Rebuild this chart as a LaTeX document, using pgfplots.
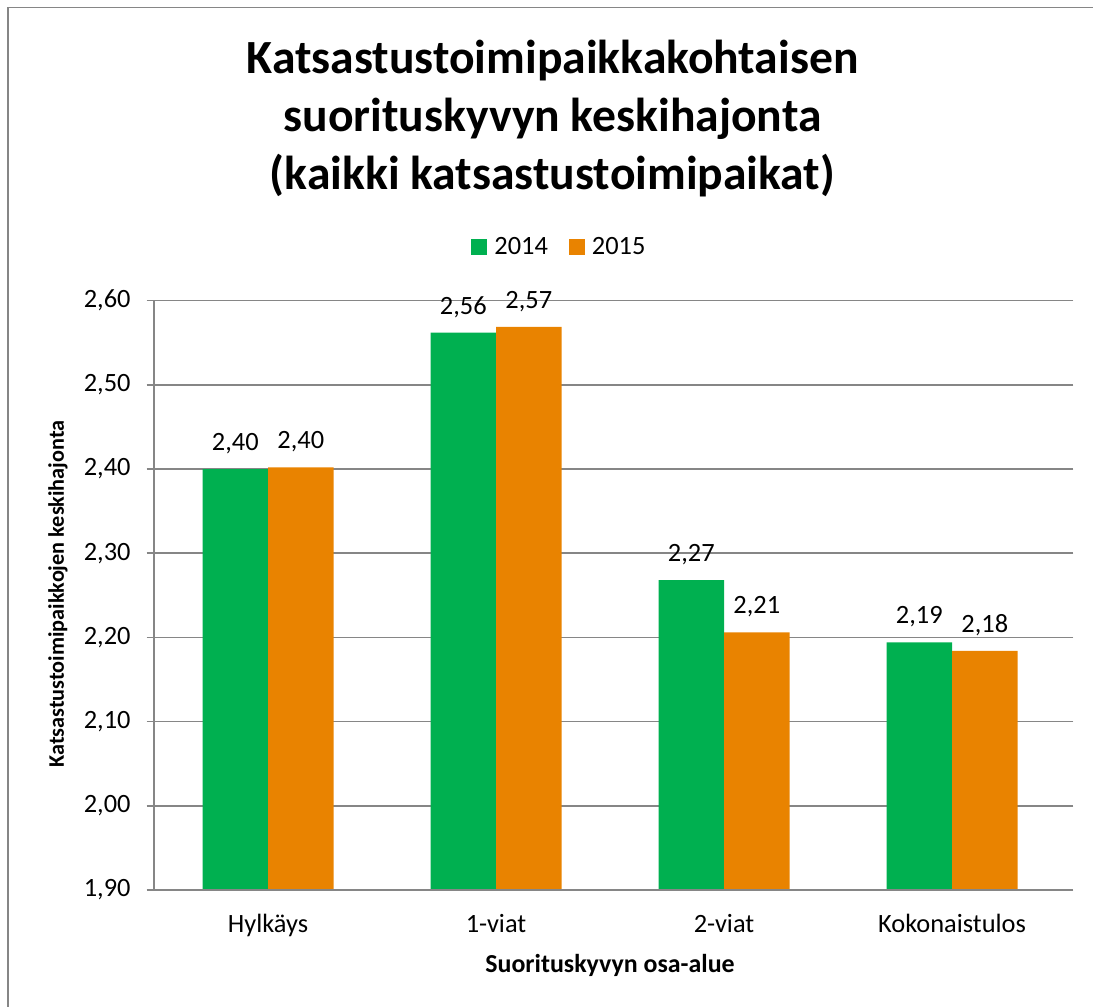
\documentclass[border=0pt]{standalone}
\usepackage{fontspec}
\setmainfont{Carlito}
\usepackage{pgfplots}
\pgfplotsset{compat=1.18}
\definecolor{cgreen}{RGB}{0,176,80}
\definecolor{corange}{RGB}{233,131,0}
\definecolor{cgrid}{RGB}{134,134,134}
\newcommand\tickfont{\fontsize{26.5}{31}\selectfont}
\begin{document}
\begin{tikzpicture}[x=1bp,y=1bp]
\path[use as bounding box] (0,0) rectangle (1093,1007);
\draw[cgrid, line width=1.2bp] (8,0) -- (8,999.5) -- (1093,999.5);
% title
\node[anchor=base, font=\fontsize{47.8}{56}\selectfont\bfseries] at (552.5,933.7) {Katsastustoimipaikkakohtaisen};
\node[anchor=base, font=\fontsize{47.8}{56}\selectfont\bfseries] at (552.5,875.3) {suorituskyvyn keskihajonta};
\node[anchor=base, font=\fontsize{47.8}{56}\selectfont\bfseries] at (552.5,817.7) {(kaikki katsastustoimipaikat)};
% axis labels
\node[anchor=base, font=\fontsize{26}{30}\selectfont\bfseries] at (610,34) {Suorituskyvyn osa-alue};
\node[rotate=90, anchor=center, font=\fontsize{22.3}{26}\selectfont\bfseries] at (58,413) {Katsastustoimipaikkojen keskihajonta};
\begin{axis}[
  at={(154bp,117bp)}, anchor=south west,
  scale only axis, width=912bp, height=589.3bp,
  ybar=0pt, bar width=65.5bp,
  xmin=-0.5, xmax=3.5, ymin=1.9, ymax=2.6,
  xtick={0,1,2,3},
  xticklabels={Hylkäys,1-viat,2-viat,Kokonaistulos},
  ytick={1.9,2.0,2.1,2.2,2.3,2.4,2.5,2.6},
  axis line style={draw=none},
  ymajorgrids, grid style={cgrid, line width=1.6bp},
  major y tick style={cgrid, line width=1.6bp},
  major tick length=7.3bp, tick align=outside,
  x tick style={draw=none},
  /pgf/number format/use comma,
  /pgf/number format/fixed,
  /pgf/number format/fixed zerofill,
  /pgf/number format/precision=2,
  /pgf/number format/assume math mode=true,
  every tick label/.append style={font=\tickfont},
  yticklabel style={anchor=east, inner sep=0pt, xshift=-16bp},
  xticklabel style={anchor=base, inner sep=0pt, yshift=-35.4bp},
  nodes near coords,
  every node near coord/.append style={font=\tickfont, anchor=base, inner sep=0pt, yshift=18.5bp, text=black},
  legend columns=2,
  legend style={at={(0.4445,1.0911)}, anchor=center, draw=none, fill=none, font=\tickfont,
    /tikz/every odd column/.append style={column sep=5bp},
    /tikz/every even column/.append style={column sep=19bp}},
  legend image code/.code={\fill[#1] (0bp,-8bp) rectangle (16bp,8bp);},
  clip=false,
]
\addplot[fill=cgreen, draw=none] coordinates {(0,2.400) (1,2.562) (2,2.268) (3,2.194)};
\addplot[fill=corange, draw=none] coordinates {(0,2.402) (1,2.569) (2,2.206) (3,2.184)};
\legend{2014,2015}
\draw[cgrid, line width=1.6bp] (axis cs:-0.5,1.9) -- (axis cs:-0.5,2.6);
\draw[cgrid, line width=2.4bp] (axis cs:-0.5,1.9) -- (axis cs:3.5,1.9);
\end{axis}
\end{tikzpicture}
\end{document}
